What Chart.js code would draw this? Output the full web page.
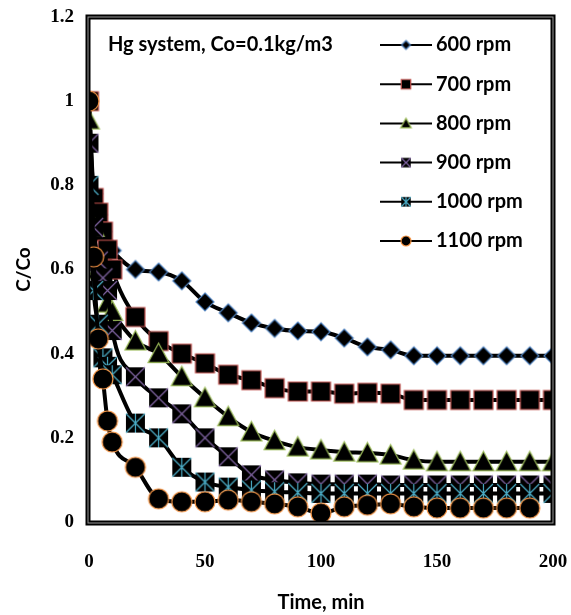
<!DOCTYPE html>
<html>
<head>
<meta charset="utf-8">
<script src="https://cdn.jsdelivr.net/npm/chart.js@4.4.1/dist/chart.umd.min.js"></script>
<style>
  html, body { margin: 0; padding: 0; background: #fff; }
  #wrap { width: 571px; height: 615px; }
</style>
</head>
<body>
<div id="wrap"><canvas id="chartHg" width="571" height="615"></canvas></div>
<script>
// time, min
const times = [0, 2, 4, 6, 8, 10, 20, 30, 40, 50, 60, 70, 80, 90, 100,
  110, 120, 130, 140, 150, 160, 170, 180, 190, 200];

const rpmLabels = ['600 rpm', '700 rpm', '800 rpm', '900 rpm', '1000 rpm', '1100 rpm'];

// C/Co
const rpm600 = [1.0, 0.78, 0.73, 0.69, 0.66, 0.645, 0.600, 0.594, 0.573, 0.523, 0.497,
  0.473, 0.460, 0.454, 0.452, 0.437, 0.416, 0.409, 0.395, 0.395, 0.395, 0.395, 0.395, 0.395, 0.395];
const rpm700 = [1.0, 0.77, 0.735, 0.69, 0.647, 0.60, 0.487, 0.430, 0.400, 0.377, 0.350,
  0.337, 0.318, 0.310, 0.310, 0.305, 0.307, 0.305, 0.290, 0.290, 0.290, 0.290, 0.290, 0.290, 0.290];
const rpm800 = [0.955, 0.70, 0.60, 0.55, 0.52, 0.50, 0.430, 0.400, 0.345, 0.295, 0.250,
  0.214, 0.193, 0.178, 0.171, 0.166, 0.164, 0.159, 0.147, 0.143, 0.143, 0.143, 0.143, 0.143, 0.143];
const rpm900 = [0.90, 0.70, 0.62, 0.58, 0.55, 0.455, 0.345, 0.295, 0.257, 0.200, 0.155,
  0.112, 0.100, 0.093, 0.090, 0.090, 0.090, 0.088, 0.088, 0.088, 0.088, 0.088, 0.088, 0.088, 0.088];
const rpm1000 = [0.80, 0.55, 0.47, 0.39, 0.37, 0.35, 0.235, 0.200, 0.130, 0.095, 0.083,
  0.076, 0.072, 0.070, 0.068, 0.068, 0.068, 0.068, 0.068, 0.068, 0.068, 0.068, 0.068, 0.068, 0.068];
const rpm1100 = [1.0, 0.63, 0.435, 0.34, 0.24, 0.19, 0.130, 0.055, 0.048, 0.048, 0.052,
  0.048, 0.043, 0.036, 0.021, 0.036, 0.040, 0.043, 0.036, 0.033, 0.033, 0.033, 0.033, 0.033, null];

const yTicks = [0, 0.2, 0.4, 0.6, 0.8, 1, 1.2];
const xTicks = [0, 50, 100, 150, 200];

function makeMarker(kind, edge, s) {
  const c = document.createElement('canvas');
  const n = Math.ceil(s + 4);
  c.width = n;
  c.height = n;
  const g = c.getContext('2d');
  const m = n / 2, h = s / 2;
  g.fillStyle = '#000';
  g.strokeStyle = edge;
  g.lineWidth = 1.2;
  g.beginPath();
  if (kind === 'diamond') {
    g.moveTo(m, m - h); g.lineTo(m + h, m); g.lineTo(m, m + h); g.lineTo(m - h, m); g.closePath();
  } else if (kind === 'triangle') {
    g.moveTo(m, m - h); g.lineTo(m + h, m + h * 0.85); g.lineTo(m - h, m + h * 0.85); g.closePath();
  } else if (kind === 'circle') {
    g.arc(m, m, h, 0, Math.PI * 2);
  } else {
    g.rect(m - h, m - h, s, s);
  }
  g.fill();
  if (kind === 'xbox' || kind === 'star') {
    g.beginPath();
    g.moveTo(m - h, m - h); g.lineTo(m + h, m + h);
    g.moveTo(m + h, m - h); g.lineTo(m - h, m + h);
    if (kind === 'star') { g.moveTo(m, m - h); g.lineTo(m, m + h); }
    g.stroke();
  } else {
    g.stroke();
  }
  return c;
}

const kinds = ['diamond', 'square', 'triangle', 'xbox', 'star', 'circle'];
const edges = ['#4f81bd', '#c0504d', '#9bbb59', '#8064a2', '#4bacc6', '#f79646'];
const sizes = [18, 19, 21, 19, 19, 20];
const series = [rpm600, rpm700, rpm800, rpm900, rpm1000, rpm1100];

const bigMarks = kinds.map((k, i) => makeMarker(k, edges[i], sizes[i]));
const smallMarks = kinds.map((k, i) => makeMarker(k, edges[i], sizes[i] * 0.5));

const frame = {
  id: 'frame',
  afterDatasetsDraw(chart) {
    const a = chart.chartArea;
    const ctx = chart.ctx;
    ctx.save();
    ctx.strokeStyle = '#000';
    ctx.lineWidth = 5;
    ctx.strokeRect(a.left - 1, a.top, a.right - a.left + 1, a.bottom - a.top + 1);
    ctx.strokeStyle = '#9a9a9a';
    ctx.lineWidth = 1;
    ctx.strokeRect(a.left - 1, a.top, a.right - a.left + 1, a.bottom - a.top + 1);

    ctx.fillStyle = '#000';
    ctx.font = 'bold 20px Lato';
    ctx.textBaseline = 'middle';
    ctx.textAlign = 'left';
    ctx.fillText('Hg system, Co=0.1kg/m3', 108, 45);

    rpmLabels.forEach((lab, i) => {
      const y = 45 + i * 39.2;
      ctx.strokeStyle = '#000';
      ctx.lineWidth = 2;
      ctx.beginPath();
      ctx.moveTo(380, y);
      ctx.lineTo(432, y);
      ctx.stroke();
      const mk = smallMarks[i];
      ctx.drawImage(mk, 406 - mk.width / 2, y - mk.height / 2);
      ctx.fillText(lab, 436, y);
    });
    ctx.restore();
  }
};

const ctx = document.getElementById('chartHg').getContext('2d');

new Chart(ctx, {
  type: 'line',
  data: {
    datasets: series.map((vals, i) => ({
      label: rpmLabels[i],
      data: times.map((t, j) => ({ x: t, y: vals[j] })),
      borderColor: '#000',
      borderWidth: 4,
      pointStyle: bigMarks[i],
      pointRadius: 10,
      cubicInterpolationMode: 'monotone',
      order: 5 - i,
      spanGaps: false
    }))
  },
  options: {
    responsive: false,
    animation: false,
    layout: { padding: { left: 0, top: 17, right: 18, bottom: 0 } },
    plugins: {
      legend: { display: false },
      tooltip: { enabled: false }
    },
    scales: {
      x: {
        type: 'linear',
        min: 0,
        max: 200,
        afterBuildTicks: s => { s.ticks = xTicks.map(v => ({ value: v })); },
        afterFit: s => { s.height = 93; s.paddingLeft = 0; s.paddingRight = 0; },
        grid: { display: false, drawTicks: false },
        border: { display: false },
        ticks: {
          padding: 29,
          color: '#000',
          font: { family: 'Liberation Serif', size: 19, weight: 'bold' }
        },
        title: {
          display: true,
          text: 'Time, min',
          color: '#000',
          font: { family: 'Lato', size: 20, weight: 'bold' },
          padding: { top: 0, bottom: 0 }
        }
      },
      y: {
        min: 0,
        max: 1.2,
        afterBuildTicks: s => { s.ticks = yTicks.map(v => ({ value: v })); },
        afterFit: s => { s.width = 89; s.paddingTop = 0; s.paddingBottom = 0; },
        grid: { display: false, drawTicks: false },
        border: { display: false },
        ticks: {
          padding: 15,
          color: '#000',
          font: { family: 'Liberation Serif', size: 19, weight: 'bold' },
          callback: v => String(+v.toFixed(1))
        },
        title: {
          display: true,
          text: 'C/Co',
          color: '#000',
          font: { family: 'Lato', size: 19, weight: 'bold' },
          padding: { top: 12, bottom: 0 }
        }
      }
    }
  },
  plugins: [frame]
});
</script>
</body>
</html>
